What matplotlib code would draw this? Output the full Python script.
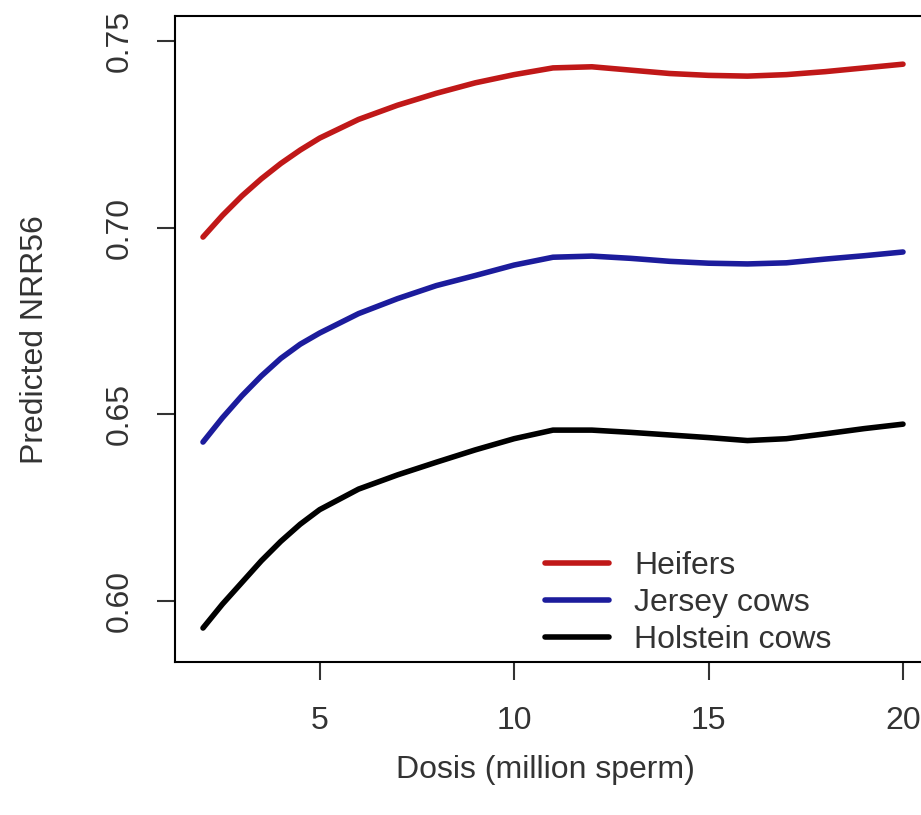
import numpy as np
import matplotlib.pyplot as plt

plt.rcParams['font.family'] = ['Liberation Sans', 'DejaVu Sans']

dosis = [2, 2.5, 3, 3.5, 4, 4.5, 5, 6, 7, 8, 9, 10, 11, 12, 13, 14, 15, 16, 17, 18, 19, 20]
heifers = [0.6975, 0.7033, 0.7085, 0.7131, 0.7172, 0.7208, 0.7240, 0.7290, 0.7328, 0.7360,
           0.7388, 0.7410, 0.7428, 0.7431, 0.7422, 0.7413, 0.7408, 0.7406, 0.7410, 0.7418,
           0.7428, 0.7438]
jersey = [0.6426, 0.6491, 0.6550, 0.6603, 0.6650, 0.6688, 0.6718, 0.6770, 0.6810, 0.6845,
          0.6872, 0.6900, 0.6921, 0.6924, 0.6918, 0.6910, 0.6905, 0.6903, 0.6906, 0.6916,
          0.6925, 0.6935]
holstein = [0.5928, 0.5992, 0.6050, 0.6108, 0.6160, 0.6206, 0.6245, 0.6300, 0.6338, 0.6372,
            0.6405, 0.6435, 0.6458, 0.6458, 0.6452, 0.6445, 0.6438, 0.6430, 0.6435, 0.6448,
            0.6462, 0.6474]
labels = ['Heifers', 'Jersey cows', 'Holstein cows']
colors = ['#C01818', '#1C1C9C', 'black']
xticks = [5, 10, 15, 20]
yticks = [0.60, 0.65, 0.70, 0.75]

W, H = 921, 815
fs = 23
fig = plt.figure(figsize=(W / 100, H / 100), dpi=100)
# axes box runs past the right edge of the picture, as in the original
ax = fig.add_axes([175 / W, 1 - 662 / H, (931 - 175) / W, (662 - 16) / H])

for ys, lab, c in zip([heifers, jersey, holstein], labels, colors):
    ax.plot(dosis, ys, color=c, lw=4, label=lab, solid_capstyle='round',
            solid_joinstyle='round')

ax.set_xlim(1.28, 20.72)
ax.set_ylim(0.5837, 0.7567)
ax.set_xticks(xticks)
ax.set_xticklabels([str(t) for t in xticks])
ax.set_yticks(yticks)
ax.set_yticklabels(['%.2f' % t for t in yticks], rotation=90, va='center')
ax.tick_params(axis='both', length=13, width=1.5, labelsize=fs, colors='#333333')
ax.tick_params(axis='x', pad=19)
ax.tick_params(axis='y', pad=16)
for s in ax.spines.values():
    s.set_linewidth(1.5)

fig.text(35 / W, 1 - 340 / H, 'Predicted NRR56', rotation=90, fontsize=fs,
         ha='center', va='center', color='#333333')
fig.text(545 / W, 1 - 770 / H, 'Dosis (million sperm)', fontsize=fs,
         ha='center', va='center', color='#333333')

leg = ax.legend(loc='upper left', bbox_to_anchor=(516 / W, 1 - 522 / H),
                bbox_transform=fig.transFigure, frameon=False, fontsize=fs,
                handlelength=2.0, handletextpad=0.8, labelspacing=0.22)
for t in leg.get_texts():
    t.set_color('#333333')

fig.savefig('out.png', dpi=100)
